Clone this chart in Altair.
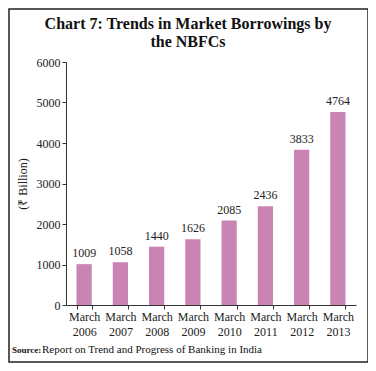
import altair as alt
import pandas as pd

categories = ["March 2006", "March 2007", "March 2008", "March 2009",
              "March 2010", "March 2011", "March 2012", "March 2013"]
values = [1009, 1058, 1440, 1626, 2085, 2436, 3833, 4764]
y_ticks = [0, 1000, 2000, 3000, 4000, 5000, 6000]
title_line1 = "Chart 7: Trends in Market Borrowings by"
title_line2 = "the NBFCs"
y_title = "(₹ Billion)"
source_bold = "Source:"
source_text = "Report on Trend and Progress of Banking in India"

df = pd.DataFrame({"cat": categories, "val": values})

FONT = "Liberation Serif"
BAR = "#c984b4"
AX = "#333333"

x_enc = alt.X("cat:N", sort=categories, title=None,
              scale=alt.Scale(paddingInner=0.58, paddingOuter=0.29),
              axis=alt.Axis(labelExpr="split(datum.label, ' ')", labelAngle=0,
                            labelFont=FONT, labelFontSize=12, labelColor="#222",
                            labelLineHeight=15, labelPadding=2,
                            tickBand="extent", tickSize=4, tickColor=AX,
                            domainColor=AX, labelBaseline="top"))
y_enc = alt.Y("val:Q", title=y_title,
              scale=alt.Scale(domain=[0, 6000]),
              axis=alt.Axis(values=y_ticks, grid=False, format="d", labelFont=FONT,
                            labelFontSize=12, labelColor="#222", tickSize=4,
                            tickColor=AX, domainColor=AX, labelPadding=2,
                            titleFont=FONT, titleFontSize=12, titleFontWeight="normal",
                            titleColor="#222", titlePadding=7))

base = alt.Chart(df)
bars = base.mark_bar(color=BAR).encode(x=x_enc, y=y_enc)
labels = base.mark_text(dy=-11, font=FONT, fontSize=12, color="#222").encode(
    x=alt.X("cat:N", sort=categories), y="val:Q", text="val:Q")

frame = alt.Chart(pd.DataFrame({"a": [0]})).mark_rect(
    fill=None, stroke="#222", strokeWidth=1.5).encode(
    x=alt.value(-57), x2=alt.value(302), y=alt.value(-53), y2=alt.value(300))

t1 = alt.Chart(pd.DataFrame({"t": [title_line1]})).mark_text(
    font=FONT, fontSize=16, fontWeight="bold", align="center", color="#111").encode(
    x=alt.value(122), y=alt.value(-38), text="t:N")
t2 = alt.Chart(pd.DataFrame({"t": [title_line2]})).mark_text(
    font=FONT, fontSize=16, fontWeight="bold", align="center", color="#111").encode(
    x=alt.value(122), y=alt.value(-20), text="t:N")

src1 = alt.Chart(pd.DataFrame({"t": [source_bold]})).mark_text(
    font=FONT, fontSize=9, fontWeight="bold", align="left", color="#111").encode(
    x=alt.value(-54), y=alt.value(288), text="t:N")
src2 = alt.Chart(pd.DataFrame({"t": [source_text]})).mark_text(
    font=FONT, fontSize=11, align="left", color="#111").encode(
    x=alt.value(-24), y=alt.value(288), text="t:N")

chart = alt.layer(frame, bars, labels, t1, t2, src1, src2).properties(
    width=290, height=243,
    autosize=alt.AutoSizeParams(type="none"),
    padding={"left": 58, "top": 54, "right": 12, "bottom": 60},
).configure_view(stroke=None)

chart.save("out.html", embed_options={"renderer": "svg", "actions": False})
